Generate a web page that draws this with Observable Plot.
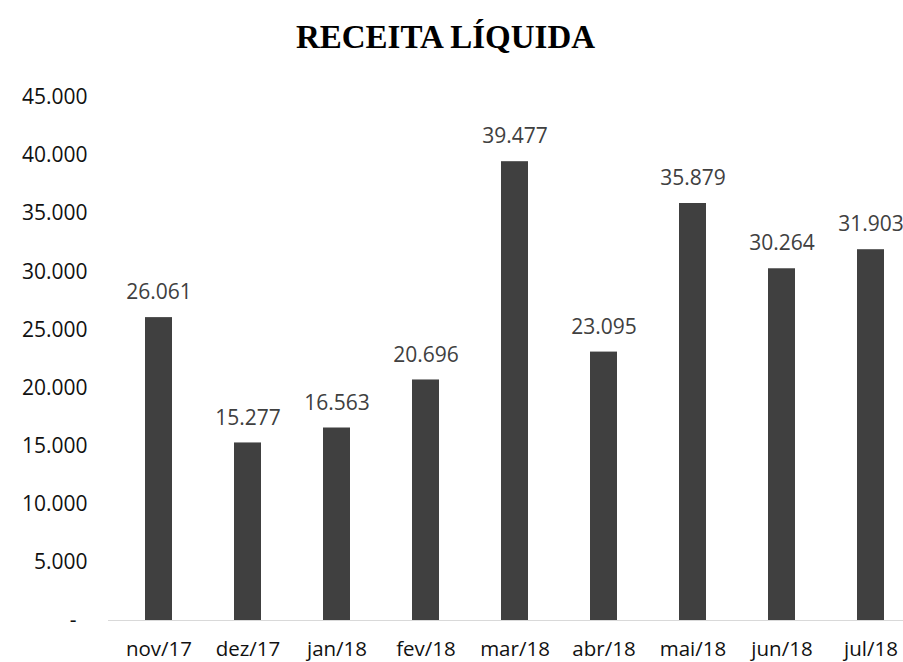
<!DOCTYPE html>
<html>
<head>
<meta charset="utf-8">
<script src="https://cdn.jsdelivr.net/npm/d3@7"></script>
<script src="https://cdn.jsdelivr.net/npm/@observablehq/plot@0.6"></script>
<style>
  html, body { margin: 0; padding: 0; background: #fff; overflow: hidden; width: 903px; height: 662px; }
  #title { height: 75px; line-height: 75px; text-align: center; padding-right: 12px; font-family: "Liberation Serif", serif; font-weight: bold; font-size: 33px; color: #000; }
  #chart svg { display: block; overflow: hidden; }
</style>
</head>
<body>
<div id="title">RECEITA LÍQUIDA</div>
<div id="chart"></div>
<script>
const months = ["nov/17", "dez/17", "jan/18", "fev/18", "mar/18", "abr/18", "mai/18", "jun/18", "jul/18"];
const values = [26061, 15277, 16563, 20696, 39477, 23095, 35879, 30264, 31903];
const yTicks = [0, 5000, 10000, 15000, 20000, 25000, 30000, 35000, 40000, 45000];

const data = months.map((m, i) => ({month: m, value: values[i]}));
const loc = d3.formatLocale({decimal: ",", thousands: ".", grouping: [3], currency: ["", ""]});
const fmt = loc.format(",");
const tickFmt = d => d === 0 ? "-\u00a0\u00a0" : fmt(d);

const chart = Plot.plot({
  width: 903,
  height: 587,
  marginLeft: 108,
  marginRight: -18,
  marginTop: 22,
  marginBottom: 42,
  style: {fontFamily: "'Open Sans', sans-serif", fontSize: "21px", color: "#404040", background: "#fff"},
  x: {domain: months, paddingInner: 0.695, paddingOuter: 0.41, label: null},
  y: {domain: [0, 45000], ticks: yTicks, label: null},
  marks: [
    Plot.ruleY([0], {stroke: "#d9d9d9", strokeWidth: 1}),
    Plot.barY(data, {x: "month", y: "value", fill: "#404040"}),
    Plot.text(data, {x: "month", y: "value", text: d => fmt(d.value), dy: -25, fill: "#404040", fontSize: 21}),
    Plot.axisY({ticks: yTicks, tickFormat: tickFmt, tickSize: 0, tickPadding: 21, fontSize: 21, label: null, fill: "#111"}),
    Plot.axisX({tickSize: 0, tickPadding: 21, fontSize: 20.5, label: null, fill: "#111"})
  ]
});
document.getElementById("chart").appendChild(chart);
</script>
</body>
</html>
